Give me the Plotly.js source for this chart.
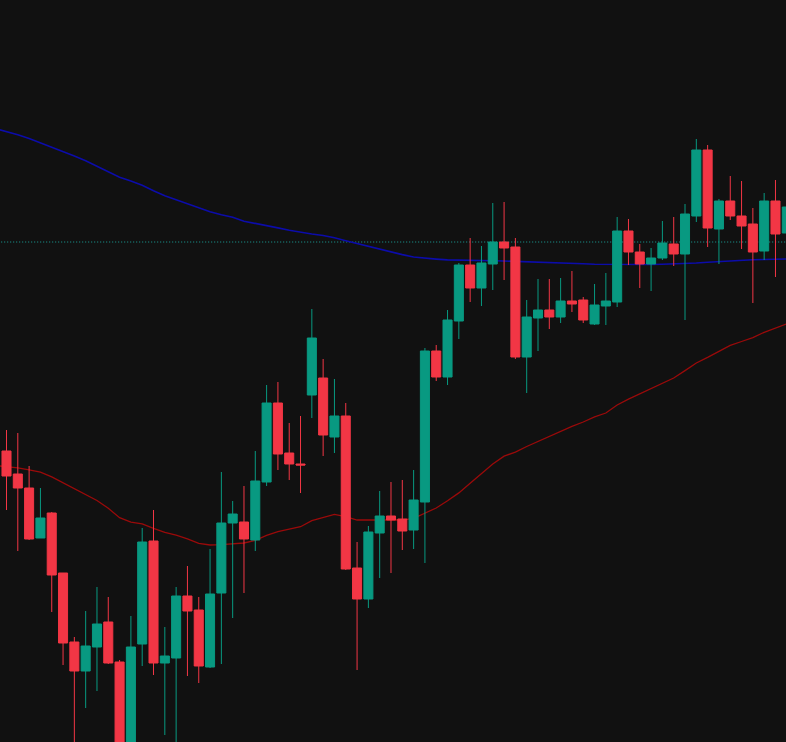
<!DOCTYPE html>
<html>
<head>
<meta charset="utf-8">
<script src="https://cdn.plot.ly/plotly-3.0.1.min.js"></script>
<style>
  html, body { margin: 0; padding: 0; background: #111111; }
  #chart { width: 786px; height: 742px; }
</style>
</head>
<body>
<div id="chart"></div>
<script>
// Candle values (arbitrary price units)
const opens  = [39.1,36.8,35.4,30.4,32.9,26.9,20.0,17.1,19.5,22.0,18.0,9.2,19.8,30.1,17.9,18.4,24.6,23.2,17.5,24.9,
                31.9,32.0,30.2,36.0,43.9,38.9,37.8,44.7,46.4,40.5,42.6,27.4,24.3,30.9,32.6,32.3,31.2,34.0,49.1,46.5,
                52.1,57.7,55.4,57.8,60.0,59.5,48.5,52.4,53.2,52.5,54.1,54.2,51.8,53.6,54.0,61.1,59.0,57.8,58.4,59.8,
                58.8,62.6,69.2,61.3,64.1,62.6,61.8,59.1,64.1,60.9];
const highs  = [41.2,40.9,37.6,35.4,33.0,26.9,20.5,23.1,25.5,24.5,18.2,22.6,31.4,33.2,21.5,25.5,27.6,24.5,29.3,37.0,
                34.1,35.6,39.1,45.7,46.0,41.9,42.6,53.3,48.3,46.3,43.9,30.0,31.6,35.1,36.0,36.2,37.2,49.4,49.7,53.2,
                57.9,60.4,59.6,63.9,64.0,60.4,54.2,56.3,56.3,56.4,57.1,54.5,55.8,56.9,62.5,62.3,59.8,59.4,62.1,62.5,
                63.8,70.3,69.7,64.3,66.6,66.1,63.4,64.9,66.2,64.7];
const lows   = [33.2,29.1,30.2,30.4,23.0,17.7,9.2,13.4,15.1,17.8,8.2,8.4,17.6,16.7,10.7,9.2,16.6,15.9,17.4,17.8,
                22.4,24.9,29.1,35.6,37.2,36.2,34.9,42.4,38.6,38.9,27.2,17.2,23.4,26.4,26.9,29.2,29.3,27.9,46.1,45.7,
                50.3,54.0,53.6,55.2,56.2,48.3,44.9,49.1,51.3,51.9,53.0,51.9,51.7,51.7,53.5,57.7,55.4,55.1,58.2,57.6,
                52.2,62.0,59.5,57.8,62.2,59.3,53.9,58.2,56.5,60.2];
const closes = [36.6,35.4,30.3,32.4,26.7,19.9,17.1,19.6,21.8,17.9,9.0,19.5,30.0,17.9,18.6,24.6,23.1,17.6,24.8,31.9,
                32.8,30.3,36.1,43.9,38.8,37.8,37.7,50.4,40.7,42.6,27.3,24.3,31.0,32.6,32.2,31.1,34.2,49.1,46.5,52.2,
                57.7,55.4,57.9,60.0,59.4,48.5,52.5,53.2,52.5,54.1,53.8,52.2,53.7,54.1,61.1,59.0,57.8,58.4,59.9,58.8,
                62.8,69.2,61.4,64.1,62.6,61.6,59.0,64.1,60.8,63.5];

// Moving averages (first value belongs to the bar before the first visible candle)
const maSlow = [71.35,71.05,70.73,70.34,69.92,69.51,69.08,68.60,68.12,67.57,67.05,66.48,66.10,65.68,65.12,64.63,64.23,63.82,63.38,63.03,
                62.73,62.47,62.08,61.88,61.66,61.41,61.18,60.96,60.80,60.65,60.43,60.13,59.84,59.56,59.28,59.01,58.74,58.50,58.37,58.29,
                58.21,58.17,58.17,58.16,58.12,58.10,58.07,58.04,58.00,57.97,57.92,57.85,57.82,57.78,57.76,57.74,57.73,57.73,57.75,57.77,
                57.80,57.85,57.90,57.97,58.05,58.13,58.18,58.22,58.25,58.28,58.30];
const maFast = [37.65,37.57,37.42,37.22,36.99,36.52,35.92,35.28,34.72,34.15,33.37,32.43,31.99,31.81,31.36,30.96,30.68,30.32,29.86,29.70,
                29.74,29.83,29.90,30.16,30.66,31.04,31.28,31.53,32.14,32.42,32.77,32.53,32.20,32.20,32.20,32.20,32.20,32.37,32.89,33.40,
                34.12,34.91,35.87,36.85,37.80,38.59,38.98,39.55,40.06,40.53,41.03,41.57,42.00,42.52,42.90,43.70,44.28,44.80,45.30,45.85,
                46.40,47.14,47.90,48.46,49.02,49.66,50.05,50.44,50.97,51.38,51.82];

const priceLine = 60.0;

const bars = opens.map((_, i) => i);
const maX = maSlow.map((_, i) => i - 1);

const UP = '#089981';
const DOWN = '#F23645';

const X_RANGE = [-0.575, 68.93];
const Y_RANGE = [10.0, 84.2];

const traces = [
  {
    type: 'scatter', mode: 'lines',
    x: [maX[0], maX[maX.length - 1]], y: [priceLine, priceLine],
    line: { color: '#1aa39a', width: 1, dash: '1px,2px' },
    hoverinfo: 'skip', showlegend: false
  },
  {
    type: 'scatter', mode: 'lines', x: maX, y: maSlow,
    line: { color: '#0c0caa', width: 1.6 },
    hoverinfo: 'skip', showlegend: false
  },
  {
    type: 'scatter', mode: 'lines', x: maX, y: maFast,
    line: { color: '#9a0a0a', width: 1.3 },
    hoverinfo: 'skip', showlegend: false
  },
  {
    type: 'candlestick', x: bars, open: opens, high: highs, low: lows, close: closes,
    xaxis: 'x2', yaxis: 'y2',
    increasing: { line: { color: UP, width: 1 }, fillcolor: UP },
    decreasing: { line: { color: DOWN, width: 1 }, fillcolor: DOWN },
    whiskerwidth: 0,
    hoverinfo: 'skip', showlegend: false
  }
];

const layout = {
  width: 786, height: 742,
  margin: { l: 0, r: 0, t: 0, b: 0, pad: 0 },
  paper_bgcolor: '#111111', plot_bgcolor: '#111111',
  showlegend: false,
  boxgap: 0.2, boxgroupgap: 0,
  xaxis: { range: X_RANGE, visible: false, rangeslider: { visible: false }, fixedrange: true },
  yaxis: { range: Y_RANGE, visible: false, fixedrange: true },
  xaxis2: { range: X_RANGE, overlaying: 'x', visible: false, rangeslider: { visible: false }, fixedrange: true },
  yaxis2: { range: Y_RANGE, overlaying: 'y', visible: false, fixedrange: true }
};

Plotly.newPlot('chart', traces, layout, { staticPlot: true, displayModeBar: false });
</script>
</body>
</html>
